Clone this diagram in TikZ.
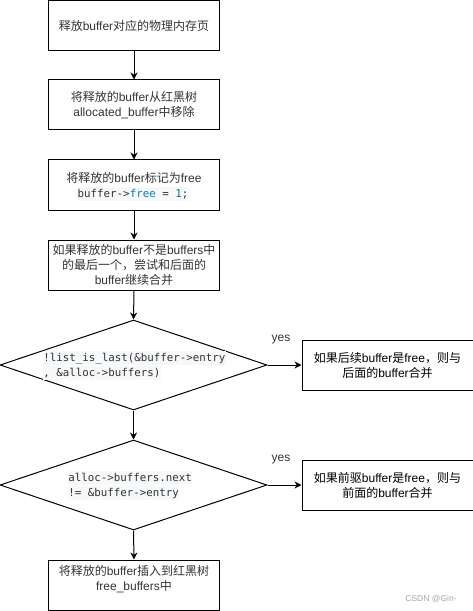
\documentclass[tikz,border=0pt]{standalone}
\usepackage{fontspec}
\setmainfont{Liberation Sans}
\newfontfamily\cjk{Noto Sans CJK SC}
\newfontfamily\monof{DejaVu Sans Mono}
\newcommand\zh[1]{{\cjk #1}}
\usetikzlibrary{shapes.geometric,arrows.meta}
\definecolor{codebg}{HTML}{F6F8FA}
\definecolor{codefg}{HTML}{333333}
\definecolor{kwc}{HTML}{0086B3}
\definecolor{numc}{HTML}{008080}
\definecolor{txt}{HTML}{333333}
\tikzset{
  box/.style={draw, line width=1bp, minimum width=170bp, minimum height=50bp, inner sep=0pt, align=center, text=txt, font=\fontsize{12bp}{15bp}\selectfont},
  dia/.style={draw, shape=diamond, line width=1bp, minimum width=267bp, minimum height=90bp, inner sep=0pt},
  code/.style={fill=codebg, inner sep=0.6bp, text=codefg, font=\monof\fontsize{10.8bp}{13bp}\selectfont, text height=9bp, text depth=3bp},
  lbl/.style={inner sep=0pt, text=txt, font=\fontsize{12bp}{15bp}\selectfont, align=center},
  arr/.style={line width=1bp, -{Stealth[length=7bp,width=7bp]}},
}
\begin{document}
\begin{tikzpicture}[x=1bp,y=-1bp]
\useasboundingbox (0,0) rectangle (473,611);
% left column boxes
\node[box] (b1) at (134,25.5) {\zh{释放}buffer\zh{对应的物理内存页}};
\node[box] (b2) at (134,105) {\zh{将释放的}buffer\zh{从红黑树}\\allocated\_buffer\zh{中移除}};
\node[box] (b3) at (134,185) {};
\node[lbl] (t3) at (134,178) {\zh{将释放的}buffer\zh{标记为}free};
\node[code, anchor=center] (c3) at (133,194) {buffer->{\color{kwc}free} = {\color{numc}1};};
\node[box] (b4) at (134,265) {\zh{如果释放的}buffer\zh{不是}buffers\zh{中}\\\zh{的最后一个，尝试和后面的}\\buffer\zh{继续合并}};
% decisions
\node[dia] (d1) at (133.5,365) {};
\node[code, anchor=west] (c1a) at (42.5,358) {!list\_is\_last(\&buffer->entry};
\node[code, anchor=west] (c1b) at (42.5,373) {, \&alloc->buffers)};
\node[dia] (d2) at (133.5,485) {};
\node[code, anchor=west] (c2a) at (67.5,478) {alloc->buffers.next\ };
\node[code, anchor=west] (c2b) at (67.5,493) {!= \&buffer->entry};
% right boxes
\node[box, minimum width=171bp, text=black] (r1) at (387.5,365) {\zh{如果后续}buffer\zh{是}free\zh{，则与}\\\zh{后面的}buffer\zh{合并}};
\node[box, minimum width=171bp, text=black] (r2) at (387.5,485) {\zh{如果前驱}buffer\zh{是}free\zh{，则与}\\\zh{前面的}buffer\zh{合并}};
% final box
\node[box] (b5) at (134,585) {};
\node[lbl, anchor=north] (t5) at (134,565) {\zh{将释放的}buffer\zh{插入到红黑树}\\free\_buffers\zh{中}};
% labels
\node[lbl] (y1) at (281,340) {yes};
\node[lbl] (y2) at (281,460) {yes};
\node[inner sep=0pt, text=black!35, font=\fontsize{8.5bp}{10bp}\selectfont] (wm) at (431,599) {CSDN @Gin-};
% connectors
\draw[arr] (b1.south) -- (b2.north);
\draw[arr] (b2.south) -- (b3.north);
\draw[arr] (b3.south) -- (b4.north);
\draw[arr] (b4.south) -- (d1.north);
\draw[arr] (d1.south) -- (d2.north);
\draw[arr] (d2.south) -- (b5.north);
\draw[arr] (d1.east) -- (r1.west);
\draw[arr] (d2.east) -- (r2.west);
\end{tikzpicture}
\end{document}
